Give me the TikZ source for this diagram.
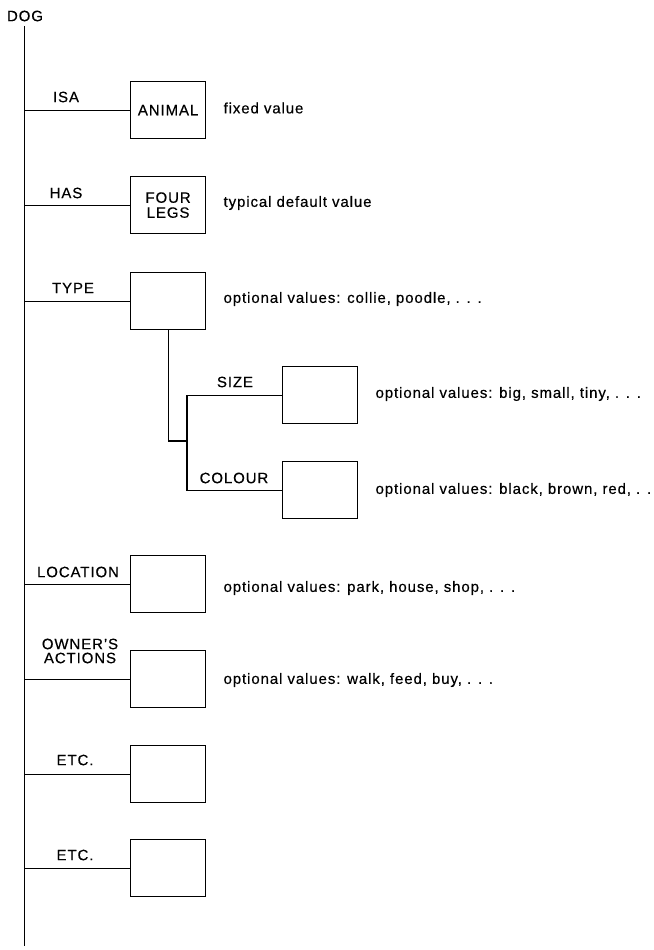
\documentclass[tikz,border=0pt]{standalone}
\usepackage{fontspec}
\setmainfont{Liberation Sans}[LetterSpace=6,FakeBold=0.4]
\begin{document}
\begin{tikzpicture}[x=1pt,y=-1pt,
  line width=1.2pt,
  every node/.style={font=\fontsize{15}{17}\selectfont, inner sep=0pt},
  slot/.style={draw, anchor=north west, minimum width=75pt, minimum height=57pt, align=center},
  lab/.style={align=center},
  val/.style={anchor=west}]
\useasboundingbox (0,0) rectangle (653,950);
% spine
\node (dog) at (25,16) {DOG};
\coordinate (top) at (24.5,26);
\coordinate (bot) at (24.5,946);
\draw (top) -- (bot);
% boxes
\node[slot] (isa) at (130,81) {ANIMAL};
\node[slot] (has) at (130,176) {FOUR\\[-2pt]LEGS};
\node[slot] (type) at (130,272) {};
\node[slot] (size) at (282,366) {};
\node[slot] (colour) at (282,461) {};
\node[slot] (loc) at (130,555) {};
\node[slot] (own) at (130,650) {};
\node[slot] (etca) at (130,745) {};
\node[slot] (etcb) at (130,839) {};
% connectors from spine
\foreach \b in {isa,has,type,loc,own,etca,etcb}
  \draw (\b.west -| top) -- (\b.west);
% sub-branch
\coordinate (j) at (187,441);
\draw (type.south) |- (j);
\draw (size.west) -- (size.west -| j) -- (colour.west -| j) -- (colour.west);
% labels
\node[lab] (lisa) at (66,97) {ISA};
\node[lab] (lhas) at (66,193) {HAS};
\node[lab] (ltype) at (73,288) {TYPE};
\node[lab] (lsize) at (235,382) {SIZE};
\node[lab] (lcol) at (234,478) {COLOUR};
\node[lab] (lloc) at (78,572) {LOCATION};
\node[lab] (lown) at (80,651) {OWNER'S\\[-3pt]ACTIONS};
\node[lab] (letca) at (75,760) {ETC.};
\node[lab] (letcb) at (75,855) {ETC.};
% values
\node[val] (visa) at (223,108) {fixed value};
\node[val] (vhas) at (223,203) {typical default value};
\node[val] (vtype) at (223,299) {optional values: collie, poodle, . . .};
\node[val] (vsize) at (375,394) {optional values: big, small, tiny, . . .};
\node[val] (vcol) at (375,490) {optional values: black, brown, red, . .};
\node[val] (vloc) at (223,588) {optional values: park, house, shop, . . .};
\node[val] (vown) at (223,680) {optional values: walk, feed, buy, . . .};
\end{tikzpicture}
\end{document}
